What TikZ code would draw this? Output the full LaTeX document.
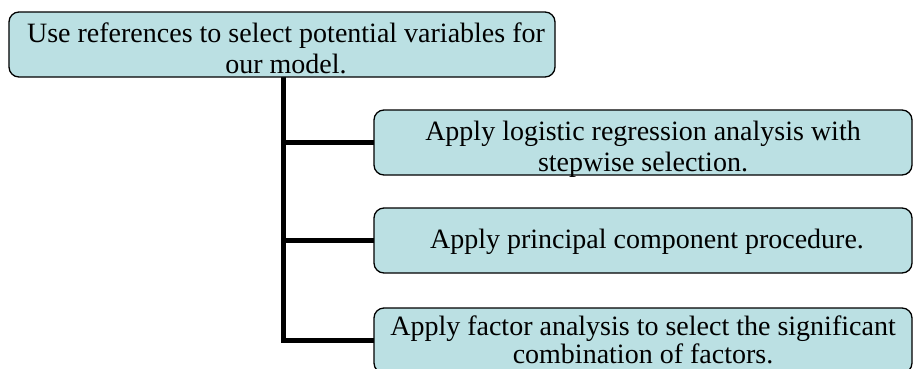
\documentclass[tikz,border=0pt]{standalone}
\usepackage{fontspec}
\setmainfont{Liberation Serif}
\usetikzlibrary{backgrounds}
\definecolor{boxfill}{RGB}{187,224,227}
\begin{document}
\begin{tikzpicture}[x=1bp,y=-1bp,
  box/.style={draw=black, line width=1.3bp, fill=boxfill, rounded corners=10bp, inner sep=0pt, outer sep=0pt},
  lbl/.style={font=\fontsize{28bp}{31bp}\selectfont, inner sep=0pt, anchor=base},
  conn/.style={line width=5bp, line cap=rect}]
\useasboundingbox (0,0) rectangle (913,368);
\clip (0,0) rectangle (913,368);
% boxes
\node[box, minimum width=546bp, minimum height=65bp] (top) at (282,44.5) {};
\node[box, minimum width=538bp, minimum height=65bp] (b1) at (643,142.5) {};
\node[box, minimum width=538bp, minimum height=65bp] (b2) at (643,240.5) {};
\node[box, minimum width=538bp, minimum height=65bp] (b3) at (643,340.5) {};
% texts
\node[lbl] (t0a) at (286,42) {Use references to select potential variables for};
\node[lbl] (t0b) at (286,73) {our model.};
\node[lbl] (t1a) at (643,140) {Apply logistic regression analysis with};
\node[lbl] (t1b) at (643,171) {stepwise selection.};
\node[lbl] (t2a) at (647,248) {Apply principal component procedure.};
\node[lbl] (t3a) at (643,335) {Apply factor analysis to select the significant};
\node[lbl] (t3b) at (643,363) {combination of factors.};
% connectors
\coordinate (s0) at (283,77);
\begin{scope}[on background layer]
\draw[conn, line cap=butt] (s0) |- (b3.west);
\draw[conn] (b1.west) -- (b1.west -| s0);
\draw[conn] (b2.west) -- (b2.west -| s0);
\end{scope}
\end{tikzpicture}
\end{document}
